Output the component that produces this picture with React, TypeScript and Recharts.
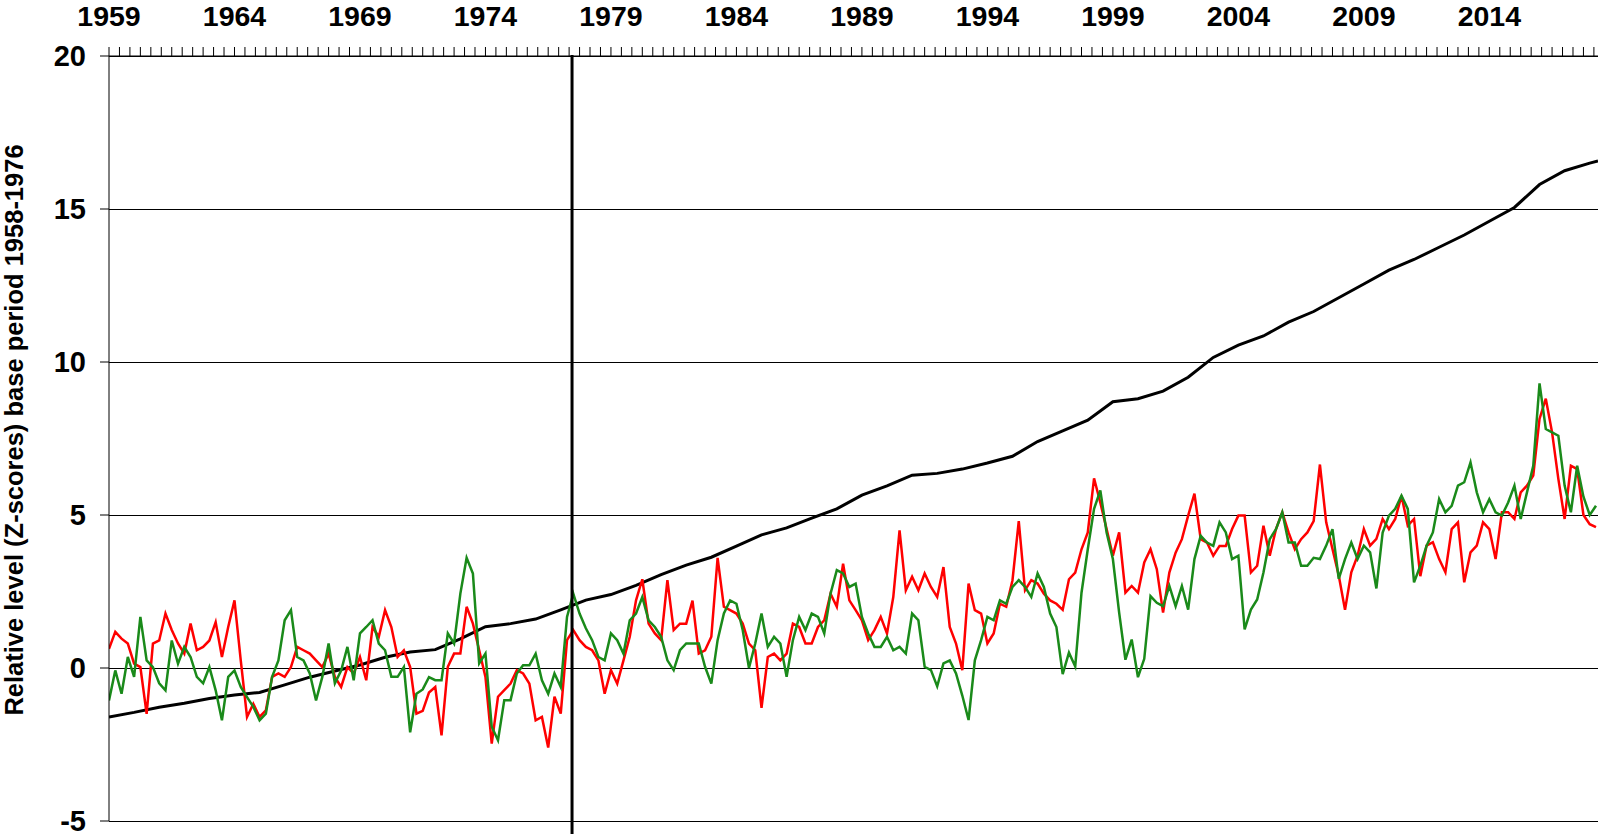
import React from 'react';
import { LineChart, Line, XAxis, YAxis, CartesianGrid, ReferenceLine } from 'recharts';

const FONT = '"Liberation Sans", Arial, Helvetica, sans-serif';

const START_YEAR = 1959;
const END_YEAR = 2018.33;
const SAMPLES_PER_YEAR = 4;
const MINOR_TICK_STEP = 5 / 12;
const BASE_PERIOD_END = 1977.45;

const labelYears = [1959, 1964, 1969, 1974, 1979, 1984, 1989, 1994, 1999, 2004, 2009, 2014];
const yTicks = [-5, 0, 5, 10, 15, 20];
const yTitle = 'Relative level (Z-scores) base period 1958-1976';

// quarterly values starting 1959.0
const redValues = [
  0.63, 1.18, 0.96, 0.8, 0.14, 0.03, -1.5, 0.8, 0.9, 1.78,
  1.24, 0.8, 0.47, 1.45, 0.58, 0.69, 0.9, 1.5, 0.36, 1.34,
  2.21, 0.25, -1.6, -1.17, -1.6, -1.38, -0.29, -0.18, -0.29, 0.03,
  0.69, 0.58, 0.47, 0.25, 0.03, 0.47, -0.29, -0.62, 0.03, -0.18,
  0.36, -0.4, 1.34, 1.02, 1.89, 1.34, 0.36, 0.58, 0.03, -1.49,
  -1.4, -0.8, -0.62, -2.2, 0.04, 0.47, 0.47, 2.0, 1.45, 0.58,
  -0.29, -2.47, -0.94, -0.72, -0.51, -0.07, -0.18, -0.51, -1.71, -1.6,
  -2.6, -0.94, -1.49, 0.91, 1.24, 0.91, 0.69, 0.58, 0.25, -0.84,
  -0.07, -0.51, 0.25, 1.02, 2.21, 2.9, 1.45, 1.13, 0.91, 2.87,
  1.24, 1.45, 1.45, 2.2, 0.47, 0.58, 1.02, 3.6, 2.0, 1.89,
  1.78, 1.45, 0.8, 0.58, -1.3, 0.36, 0.47, 0.25, 0.47, 1.45,
  1.34, 0.8, 0.8, 1.34, 1.56, 2.43, 2.0, 3.41, 2.21, 1.89,
  1.56, 0.91, 1.24, 1.67, 1.13, 2.32, 4.5, 2.54, 2.98, 2.54,
  3.09, 2.65, 2.32, 3.3, 1.34, 0.8, -0.07, 2.76, 1.89, 1.78,
  0.8, 1.13, 2.1, 2.0, 2.87, 4.8, 2.54, 2.87, 2.76, 2.43,
  2.21, 2.1, 1.9, 2.9, 3.12, 3.88, 4.43, 6.2, 5.4, 4.54,
  3.67, 4.43, 2.46, 2.68, 2.46, 3.45, 3.88, 3.23, 1.81, 3.12,
  3.77, 4.21, 4.98, 5.7, 4.21, 4.1, 3.67, 3.99, 3.99, 4.54,
  4.98, 4.98, 3.12, 3.34, 4.65, 3.67, 4.54, 5.09, 4.43, 3.88,
  4.21, 4.43, 4.8, 6.65, 4.76, 3.89, 3.02, 1.9, 3.13, 3.67,
  4.54, 4.0, 4.22, 4.87, 4.54, 4.87, 5.63, 4.65, 4.87, 3.0,
  4.0, 4.11, 3.56, 3.13, 4.54, 4.76, 2.8, 3.78, 4.0, 4.76,
  4.54, 3.56, 5.09, 5.09, 4.87, 5.74, 5.96, 6.29, 8.14, 8.8,
  7.7, 6.18, 4.87, 6.61, 6.5, 5.0, 4.7, 4.6,
];

const greenValues = [
  -1.06, -0.08, -0.84, 0.36, -0.29, 1.67, 0.25, 0.03, -0.5, -0.73,
  0.9, 0.14, 0.69, 0.36, -0.29, -0.5, 0.03, -0.73, -1.71, -0.29,
  -0.08, -0.62, -0.95, -1.27, -1.71, -1.49, -0.29, 0.25, 1.56, 1.89,
  0.36, 0.25, -0.18, -1.06, -0.29, 0.8, -0.5, -0.08, 0.69, -0.4,
  1.13, 1.34, 1.56, 0.8, 0.58, -0.29, -0.29, 0.03, -2.1, -0.84,
  -0.7, -0.3, -0.4, -0.4, 1.13, 0.8, 2.43, 3.6, 3.09, 0.15,
  0.47, -1.92, -2.36, -1.05, -1.05, -0.18, 0.09, 0.09, 0.47, -0.4,
  -0.84, -0.18, -0.62, 1.67, 2.43, 1.78, 1.3, 0.91, 0.36, 0.25,
  1.13, 0.91, 0.47, 1.56, 1.78, 2.32, 1.56, 1.34, 1.02, 0.25,
  -0.07, 0.58, 0.8, 0.8, 0.8, 0.04, -0.51, 0.91, 1.78, 2.21,
  2.1, 1.24, 0.0, 0.8, 1.78, 0.69, 1.02, 0.8, -0.29, 0.91,
  1.67, 1.24, 1.78, 1.67, 1.13, 2.43, 3.2, 3.09, 2.65, 2.76,
  1.67, 1.13, 0.69, 0.69, 1.02, 0.58, 0.69, 0.47, 1.78, 1.56,
  0.04, -0.07, -0.6, 0.15, 0.25, -0.18, -0.9, -1.7, 0.25, 0.91,
  1.67, 1.56, 2.21, 2.1, 2.65, 2.87, 2.65, 2.32, 3.09, 2.65,
  1.78, 1.34, -0.2, 0.5, 0.05, 2.46, 3.88, 5.2, 5.8, 4.43,
  3.56, 1.81, 0.27, 0.93, -0.3, 0.3, 2.35, 2.13, 2.02, 2.68,
  2.02, 2.68, 1.91, 3.56, 4.32, 4.1, 3.99, 4.76, 4.43, 3.56,
  3.67, 1.26, 1.91, 2.24, 3.12, 4.21, 4.54, 5.09, 4.1, 4.1,
  3.34, 3.34, 3.6, 3.56, 4.0, 4.54, 2.91, 3.56, 4.1, 3.56,
  4.0, 3.78, 2.6, 4.43, 4.98, 5.2, 5.63, 5.2, 2.8, 3.34,
  4.0, 4.43, 5.52, 5.09, 5.3, 5.96, 6.07, 6.72, 5.74, 5.09,
  5.52, 5.09, 4.98, 5.41, 5.96, 4.87, 5.74, 6.61, 9.3, 7.81,
  7.7, 7.59, 5.96, 5.09, 6.61, 5.6, 5.0, 5.3,
];

// annual values 1959..2018, then the final reading at END_YEAR
const blackValues = [
  -1.6, -1.45, -1.28, -1.15, -1.0, -0.88, -0.8, -0.55, -0.3, -0.1,
  0.1, 0.35, 0.52, 0.6, 0.95, 1.35, 1.45, 1.6, 1.9, 2.22,
  2.4, 2.7, 3.05, 3.36, 3.62, 3.98, 4.35, 4.58, 4.9, 5.2,
  5.65, 5.95, 6.3, 6.36, 6.5, 6.7, 6.92, 7.4, 7.75, 8.1,
  8.7, 8.8, 9.05, 9.5, 10.15, 10.55, 10.85, 11.3, 11.65, 12.1,
  12.55, 13.0, 13.35, 13.75, 14.15, 14.6, 15.05, 15.8, 16.25, 16.5,
  16.57,
];

const redData = redValues.map((v, i) => ({ t: START_YEAR + i / SAMPLES_PER_YEAR, v }));
const greenData = greenValues.map((v, i) => ({ t: START_YEAR + i / SAMPLES_PER_YEAR, v }));
const blackData = blackValues.map((v, i) => ({
  t: i < blackValues.length - 1 ? START_YEAR + i : END_YEAR,
  v,
}));

const xTicks: number[] = [];
for (let i = 0; START_YEAR + i * MINOR_TICK_STEP <= END_YEAR + 1e-9; i++) {
  xTicks.push(START_YEAR + i * MINOR_TICK_STEP);
}

const formatX = (val: number) => {
  const r = Math.round(val);
  return Math.abs(val - r) < 1e-6 && labelYears.includes(r) ? String(r) : '';
};

const VLine = (p: any) => {
  const top = Math.min(p.y1, p.y2) - 1;
  const bottom = Math.max(p.y1, p.y2) + 13;
  return <line x1={p.x1} x2={p.x2} y1={top} y2={bottom} stroke="#000" strokeWidth={3} />;
};

const YTitle = () => (
  <text
    x={23}
    y={430}
    transform="rotate(-90 23 430)"
    textAnchor="middle"
    fontFamily={FONT}
    fontWeight="bold"
    fontSize={25.5}
    fill="#000"
  >
    {yTitle}
  </text>
);

const xTickStyle = { fill: '#000', fontSize: 28.5, fontFamily: FONT, fontWeight: 'bold' as const };
const yTickStyle = { fill: '#000', fontSize: 29, fontFamily: FONT, fontWeight: 'bold' as const };

export default function App() {
  return (
    <div style={{ position: 'absolute', left: 0, top: 0, width: 1600, height: 834, background: '#fff' }}>
      <LineChart width={1600} height={834} margin={{ top: 0, right: 2, bottom: 13, left: 0 }}>
        <CartesianGrid vertical={false} stroke="#000" strokeWidth={1} shapeRendering="crispEdges" />
        <XAxis
          type="number"
          dataKey="t"
          orientation="top"
          domain={[START_YEAR, END_YEAR]}
          allowDataOverflow
          ticks={xTicks}
          interval={0}
          tickFormatter={formatX}
          height={56}
          tickSize={9}
          tickMargin={21}
          stroke="#000"
          tick={xTickStyle}
        />
        <YAxis
          type="number"
          domain={[-5, 20]}
          ticks={yTicks}
          interval={0}
          width={109}
          tickSize={9}
          tickMargin={14}
          stroke="#000"
          tick={yTickStyle}
          label={{ content: () => <YTitle /> }}
        />
        <Line data={blackData} dataKey="v" type="linear" stroke="#000" strokeWidth={3} dot={false} activeDot={false} isAnimationActive={false} />
        <Line data={redData} dataKey="v" type="linear" stroke="#ff0000" strokeWidth={2.5} dot={false} activeDot={false} isAnimationActive={false} />
        <Line data={greenData} dataKey="v" type="linear" stroke="#1a8a1a" strokeWidth={2.5} dot={false} activeDot={false} isAnimationActive={false} />
        <ReferenceLine x={BASE_PERIOD_END} stroke="#000" strokeWidth={3} shape={VLine} />
      </LineChart>
    </div>
  );
}
